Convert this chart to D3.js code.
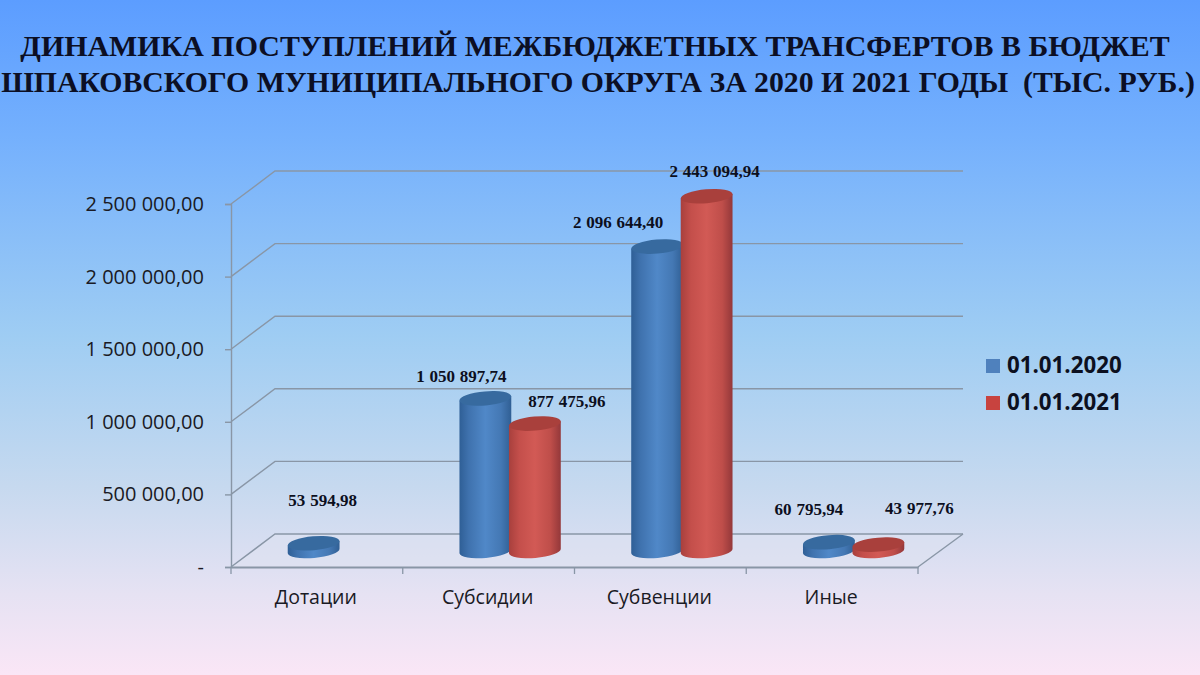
<!DOCTYPE html>
<html lang="ru"><head><meta charset="utf-8">
<script src="https://cdn.jsdelivr.net/npm/d3@7"></script>
<style>html,body{margin:0;padding:0;overflow:hidden;background:#fff}svg{display:block}</style>
</head><body><div id="c"></div>
<script>
const titleLines = ["ДИНАМИКА ПОСТУПЛЕНИЙ МЕЖБЮДЖЕТНЫХ ТРАНСФЕРТОВ В БЮДЖЕТ","ШПАКОВСКОГО МУНИЦИПАЛЬНОГО ОКРУГА ЗА 2020 И 2021 ГОДЫ  (ТЫС. РУБ.)"];
const categories = ["Дотации","Субсидии","Субвенции","Иные"];
const seriesNames = ["01.01.2020","01.01.2021"];
const values2020 = [53594.98,1050897.74,2096644.40,60795.94];
const values2021 = [null,877475.96,2443094.94,43977.76];
const yTicks = [0,500000,1000000,1500000,2000000,2500000];

const W=1200,H=675;
const svg=d3.select("#c").append("svg").attr("width",W).attr("height",H);
const defs=svg.append("defs");
const bg=defs.append("linearGradient").attr("id","bg").attr("x1",0).attr("y1",0).attr("x2",0).attr("y2",1);
[[0,"#5c9dff"],[0.2,"#74b0fd"],[0.5,"#9fcdf3"],[0.72,"#c6d9ef"],[0.88,"#e6e2f3"],[1,"#fae6f6"]].forEach(s=>bg.append("stop").attr("offset",s[0]).attr("stop-color",s[1]));
svg.append("rect").attr("width",W).attr("height",H).attr("fill","url(#bg)");
function cyl(id,stops){const g=defs.append("linearGradient").attr("id",id);stops.forEach(s=>g.append("stop").attr("offset",s[0]).attr("stop-color",s[1]));}
cyl("gb",[[0,"#2f5f96"],[0.18,"#3f72ae"],[0.5,"#5088c8"],[0.8,"#4478b4"],[1,"#305f94"]]);
cyl("gr",[[0,"#a8403d"],[0.2,"#c44f4b"],[0.5,"#d25a55"],[0.8,"#bf4e4a"],[1,"#94383a"]]);
const sideFill=["url(#gb)","url(#gr)"], topFill=["#376a9f","#a9403c"], swatch=["#4f81bd","#c8433f"];

const x=d3.scaleBand().domain(categories).range([231,918]);
const y=d3.scaleLinear().domain([0,2500000]).range([567,204]);
const inner=d3.scaleBand().domain(seriesNames).range([-50,49]);
const depthX=44,depthY=-33,midX=22,midY=-16;
const locale=d3.formatLocale({decimal:",",thousands:"\u00a0",grouping:[3],currency:["",""]});
const fmt=locale.format(",.2f");
const axisFormat=v=>v===0?"-":fmt(v);

// walls and floor
const grid=svg.append("g").attr("fill","none").attr("stroke","#8996a6").attr("stroke-width",1.4);
svg.insert("path","g").attr("fill","#dfe2f1").attr("opacity",0.55)
  .attr("d",`M${x.range()[0]},${y(0)}L${x.range()[0]+depthX},${y(0)+depthY}H${x.range()[1]+depthX+1}L${x.range()[1]},${y(0)}Z`);
yTicks.forEach(t=>{
  grid.append("path").attr("d",`M${x.range()[0]},${y(t)}L${x.range()[0]+depthX},${y(t)+depthY}H${x.range()[1]+depthX+1}`);
});
grid.append("path").attr("d",`M${x.range()[1]},${y(0)}L${x.range()[1]+depthX+1},${y(0)+depthY}`);

// axes
const ax=svg.append("g").attr("transform","translate(231,0)").call(d3.axisLeft(y).tickValues(yTicks).tickFormat(axisFormat).tickSize(6).tickPadding(21));
ax.selectAll("path,line").attr("stroke","#8996a6").attr("stroke-width",1.4);
ax.selectAll("text").attr("font-family","'Open Sans'").attr("font-size",20).attr("fill","#1a1a24");
const bx=svg.append("g").attr("transform",`translate(0,${y(0)})`).call(d3.axisBottom(x).tickSize(0).tickPadding(23));
bx.select("path").attr("stroke","#8996a6").attr("stroke-width",2);
bx.selectAll("text").attr("font-family","'Open Sans'").attr("font-size",19.5).attr("fill","#1a1a24").attr("dx",-1);
svg.append("g").selectAll("line").data([...categories.map(c=>x(c)),x.range()[1]]).join("line")
  .attr("x1",d=>d).attr("x2",d=>d).attr("y1",y(0)).attr("y2",y(0)+7).attr("stroke","#8996a6").attr("stroke-width",1.3);

// cylinders
const rx=26,ry=7,rot=-5,ca=Math.cos(rot*Math.PI/180)*rx,sa=Math.sin(rot*Math.PI/180)*rx;
const labelDx=[[9,-24,-39,-20],[0,32,8,41]];
const labelDy=[[-37,-16,-19,-27],[0,-17,-19,-31]];
[values2020,values2021].forEach((vals,s)=>{
  const g=svg.append("g");
  categories.forEach((c,i)=>{
    if(vals[i]==null) return;
    const cx=x(c)+x.bandwidth()/2+midX+inner(seriesNames[s])+inner.bandwidth()/2;
    const b=y(0)+midY, t=y(vals[i])+midY;
    g.append("path").attr("fill",sideFill[s])
      .attr("d",`M${cx-ca},${t-sa}L${cx-ca},${b-sa}A${rx},${ry} ${rot} 0 0 ${cx+ca},${b+sa}L${cx+ca},${t+sa}Z`);
    g.append("path").attr("fill",topFill[s])
      .attr("d",`M${cx-ca},${t-sa}A${rx},${ry} ${rot} 1 1 ${cx+ca},${t+sa}A${rx},${ry} ${rot} 1 1 ${cx-ca},${t-sa}Z`);
  });
});
// data labels
[values2020,values2021].forEach((vals,s)=>{
  categories.forEach((c,i)=>{
    if(vals[i]==null) return;
    const cx=x(c)+x.bandwidth()/2+midX+inner(seriesNames[s])+inner.bandwidth()/2;
    svg.append("text").attr("x",cx+labelDx[s][i]).attr("y",y(vals[i])+midY+labelDy[s][i])
      .attr("text-anchor","middle").attr("font-family","'Liberation Serif'").attr("font-weight","bold")
      .attr("font-size",17).attr("fill","#0c0f1e").text(fmt(vals[i]).replace(/\u00a0/g,"\u2009\u200a"));
  });
});
// legend
seriesNames.forEach((n,i)=>{
  const ly=359+i*37;
  svg.append("rect").attr("x",986).attr("y",ly).attr("width",14).attr("height",14).attr("fill",swatch[i]);
  svg.append("text").attr("x",1007).attr("y",ly+14).attr("font-family","'Open Sans'").attr("font-weight","bold")
    .attr("font-size",22.3).attr("fill","#0c1020").text(n);
});
// title
const titleWidth=[1150,1194];
svg.selectAll("text.t").data(titleLines).join("text").attr("class","t")
  .attr("x",(d,i)=>[595,598][i]).attr("y",(d,i)=>[56,92][i]).attr("text-anchor","middle")
  .attr("font-family","'Liberation Serif'").attr("font-weight","bold").attr("font-size",30)
  .attr("fill","#0c0f24").style("white-space","pre").text(d=>d)
  .each(function(d,i){const len=this.getComputedTextLength();d3.select(this).attr("font-size",30*titleWidth[i]/len);});
</script></body></html>
